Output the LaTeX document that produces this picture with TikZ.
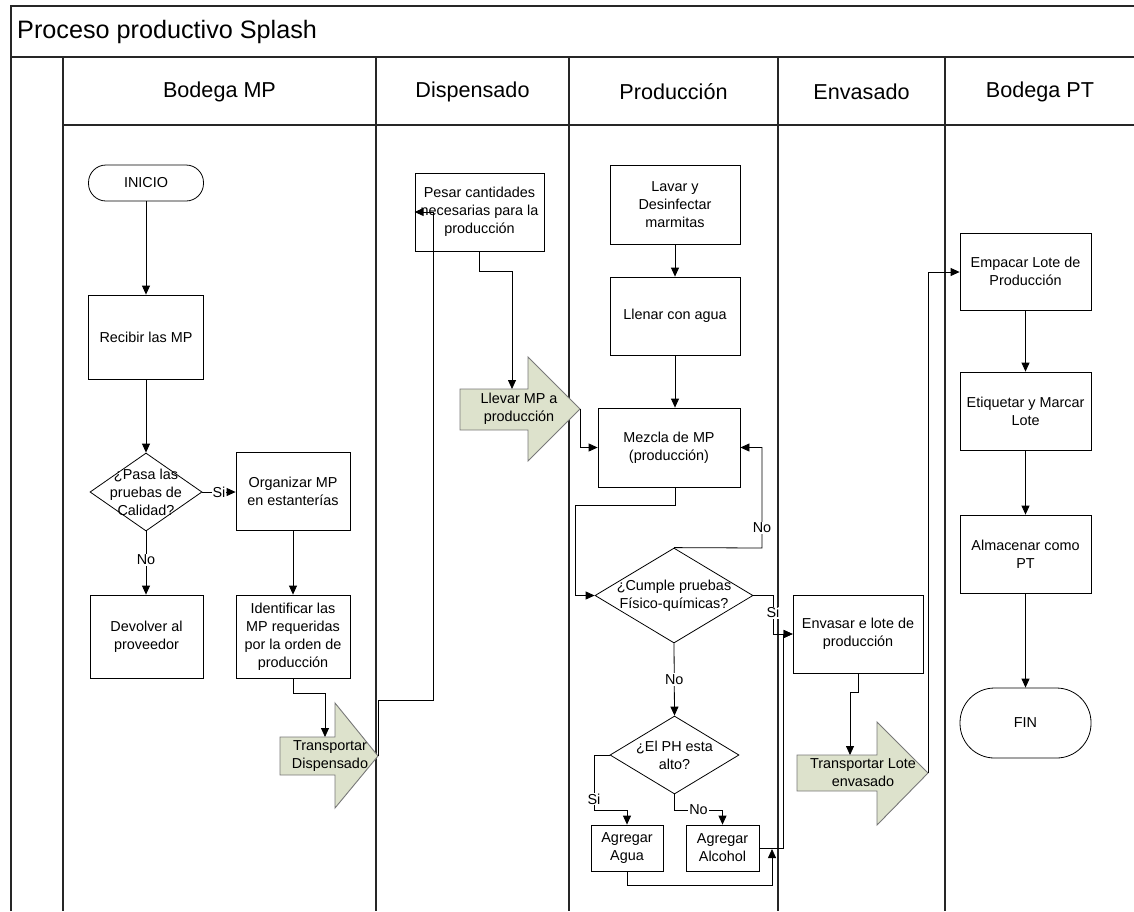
\documentclass[tikz,border=0pt]{standalone}
\usepackage{fontspec}
\setmainfont{Liberation Sans}
\usetikzlibrary{shapes.geometric,arrows.meta}
\definecolor{arrfill}{RGB}{221,226,204}
\definecolor{arredge}{RGB}{120,120,120}
\begin{document}
\begin{tikzpicture}[x=1pt,y=-1pt,
  lane/.style={line width=1.3pt, black!85},
  hdr/.style={font=\fontsize{21.6}{24}\selectfont, inner sep=0pt},
  box/.style={draw, line width=0.8pt, inner sep=0pt, align=center, font=\fontsize{14.4}{18}\selectfont},
  term/.style={box, rounded corners=17.5pt},
  dia/.style={draw, line width=0.8pt, diamond, inner sep=0pt},
  dtxt/.style={align=center, inner sep=0pt, font=\fontsize{14.4}{18}\selectfont},
  fat/.style={fill=arrfill, draw=arredge, line width=0.9pt},
  conn/.style={line width=0.8pt, -{Triangle[length=9pt,width=8pt]}},
  lab/.style={fill=white, inner sep=1pt, font=\fontsize{14.4}{16}\selectfont}]
\useasboundingbox (0,0) rectangle (1134,911);
% frame and lanes
\draw[lane] (11,911) -- (11,6) -- (1134,6);
\draw[lane] (11,57) -- (1134,57);
\draw[lane] (63,125) -- (1134,125);
\foreach \x in {63,376,569,778,945} {\draw[lane] (\x,57) -- (\x,911);}
\node[anchor=west, inner sep=0pt, font=\fontsize{25.2}{28}\selectfont] (title) at (17,32) {Proceso productivo Splash};
\node[hdr] (h1) at (219.5,92) {Bodega MP};
\node[hdr] (h2) at (472.5,92) {Dispensado};
\node[hdr] (h3) at (673.5,92) {Producción};
\node[hdr] (h4) at (861.5,92) {Envasado};
\node[hdr] (h5) at (1040,92) {Bodega PT};
% Bodega MP
\node[term, minimum width=115, minimum height=36] (inicio) at (146,183) {INICIO};
\node[box, minimum width=115, minimum height=84] (recibir) at (146,337) {Recibir las MP};
\node[dia, minimum width=112, minimum height=78, label={[dtxt]center:{¿Pasa las\\pruebas de\\Calidad?}}] (pasa) at (146,492) {};
\node[box, minimum width=114, minimum height=78] (organizar) at (293,491) {Organizar MP\\en estanterías};
\node[box, minimum width=113, minimum height=83] (devolver) at (146.5,636.5) {Devolver al\\proveedor};
\node[box, minimum width=114, minimum height=83] (identificar) at (293,636.5) {Identificar las\\MP requeridas\\por la orden de\\producción};
% fat arrow Transportar Dispensado
\draw[fat] (280,737) -- (335,737) -- (335,703) -- (378,756) -- (335,808) -- (335,775) -- (280,775) -- cycle;
\coordinate (tdtip) at (378,756);
\coordinate (tdin) at (325,737);
\node[dtxt] (td) at (330,756) {Transportar\\Dispensado};
% Dispensado
\node[box, minimum width=129, minimum height=78] (pesar) at (479.5,212) {Pesar cantidades\\necesarias para la\\producción};
\draw[fat] (460,389) -- (528,389) -- (528,357) -- (580,409) -- (528,461) -- (528,430) -- (460,430) -- cycle;
\coordinate (lltip) at (580,409);
\coordinate (llin) at (512,389);
\node[dtxt] (llevar) at (519,409) {Llevar MP a\\producción};
% Produccion
\node[box, minimum width=130, minimum height=79] (lavar) at (675,204.5) {Lavar y\\Desinfectar\\marmitas};
\node[box, minimum width=130, minimum height=78] (llenar) at (675,316) {Llenar con agua};
\node[box, minimum width=142, minimum height=79] (mezcla) at (669,447.5) {Mezcla de MP\\(producción)};
\node[dia, minimum width=158, minimum height=95, label={[dtxt]center:{¿Cumple pruebas\\Físico-químicas?}}] (cumple) at (674,595.5) {};
\node[dia, minimum width=129, minimum height=78, label={[dtxt]center:{¿El PH esta\\alto?}}] (ph) at (674.5,755) {};
\node[box, minimum width=72, minimum height=46] (agua) at (627,848) {Agregar\\Agua};
\node[box, minimum width=73, minimum height=46] (alcohol) at (722.5,848) {Agregar\\Alcohol};
% Envasado
\node[box, minimum width=130, minimum height=78] (envasar) at (858,634) {Envasar e lote de\\producción};
\draw[fat] (797,755) -- (877,755) -- (877,722) -- (928,773) -- (877,825) -- (877,791) -- (797,791) -- cycle;
\coordinate (tltip) at (928,773);
\coordinate (tlin) at (850,755);
\node[dtxt] (tl) at (863,773) {Transportar Lote\\envasado};
% Bodega PT
\node[box, minimum width=131, minimum height=77] (empacar) at (1025.5,271.5) {Empacar Lote de\\Producción};
\node[box, minimum width=131, minimum height=78] (etiquetar) at (1025.5,411) {Etiquetar y Marcar\\Lote};
\node[box, minimum width=131, minimum height=78] (almacenar) at (1025.5,554) {Almacenar como\\PT};
\node[box, minimum width=131, minimum height=70, rounded corners=34.5pt] (fin) at (1025.5,723) {FIN};
% connectors
\draw[conn] (inicio) -- (recibir);
\draw[conn] (recibir) -- (pasa);
\draw[conn] (pasa.east) -- node[lab] {Si} (organizar.west |- pasa.east);
\draw[conn] (pasa.south) -- node[lab, pos=0.45] {No} (devolver.north -| pasa.south);
\draw[conn] (organizar) -- (identificar);
\draw[conn] (identificar.south) -- (293,693) -- (325,693) -- (tdin);
\draw[conn] (tdtip) -- (378,700) -- (433,700) -- (433,212) -- (pesar.west);
\draw[conn] (pesar.south) -- (479.5,271) -- (512,271) -- (llin);
\draw[conn] (lltip) -- (580,447.5) -- (mezcla.west);
\draw[conn] (lavar) -- (llenar);
\draw[conn] (llenar.south) -- (llenar.south |- mezcla.north);
\draw[conn] (llenar.south |- mezcla.south) -- (675,505) -- (575,505) -- (575,595.5) -- (cumple.west);
\draw[conn] (cumple.north) -- (762,548) -- node[lab, pos=0.2] {No} (762,447.5) -- (mezcla.east);
\draw[conn] (cumple.east) -- (773,595.5) -- node[lab, pos=0.45] {Si} (773,634) -- (envasar.west);
\draw[conn] (cumple.south) -- node[lab, pos=0.5] {No} (ph.north);
\draw[conn] (ph.west) -- (594,755) -- node[lab, pos=0.8] {Si} (594,810) -- (627,810) -- (agua.north);
\draw[conn] (ph.south) -- (674.5,810) -- node[lab] {No} (722.5,810) -- (alcohol.north);
\draw[conn] (alcohol.east) -- (783,848) -- (783,634) -- (envasar.west);
\draw[conn] (agua.south) -- (627,885) -- (772,885) -- (772,849);
\draw[conn] (envasar.south) -- (858,692) -- (850,692) -- (tlin);
\draw[conn] (tltip) -- (928,272) -- (empacar.west |- 0,272);
\draw[conn] (empacar) -- (etiquetar);
\draw[conn] (etiquetar) -- (almacenar);
\draw[conn] (almacenar) -- (fin);
\end{tikzpicture}
\end{document}
